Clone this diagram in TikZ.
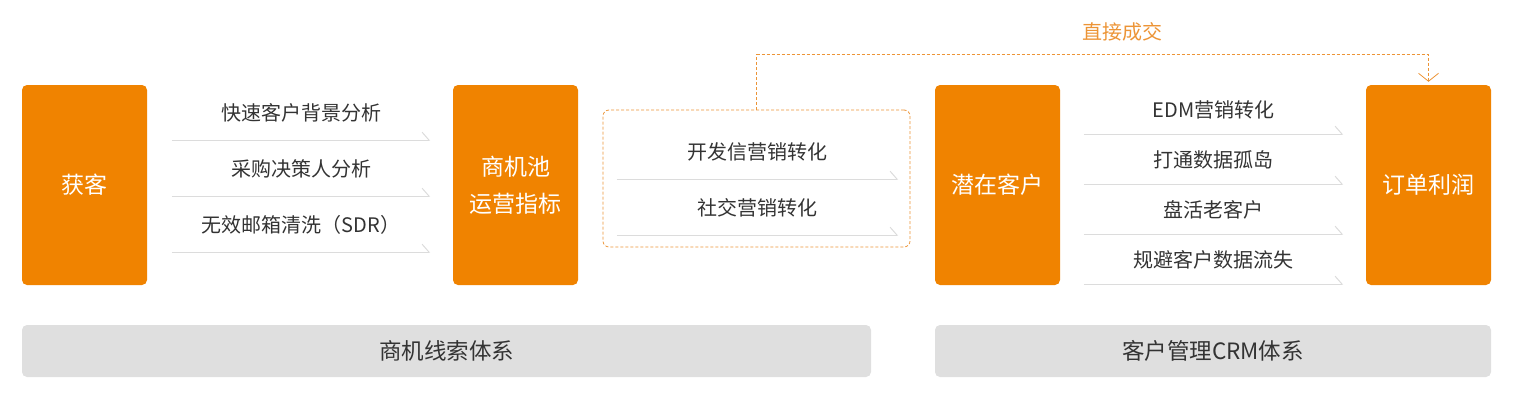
\documentclass[tikz,border=0pt]{standalone}
\usepackage{fontspec}
\setmainfont{Noto Sans CJK SC}
\usepackage{tikz}
\usetikzlibrary{arrows.meta}
\definecolor{mainorange}{HTML}{F08300}
\definecolor{lineorange}{HTML}{EC9436}
\definecolor{textgray}{HTML}{333333}
\definecolor{linegray}{HTML}{DCDCDC}
\definecolor{bargray}{HTML}{DFDFDF}

\begin{document}
\begin{tikzpicture}[x=1pt,y=-1pt,
  block/.style={fill=mainorange,rounded corners=5pt,minimum width=125pt,minimum height=200pt,
    inner sep=0pt,text=white,align=center,font=\fontsize{23}{37}\selectfont},
  item/.style={inner sep=0pt,minimum height=54pt,text=textgray,font=\fontsize{20}{22}\selectfont},
  itemline/.style={draw=linegray,line width=1pt,-{Straight Barb[left,length=7pt,width=16pt]}},
  bar/.style={fill=bargray,rounded corners=5pt,minimum height=52pt,inner sep=0pt,
    text=textgray,font=\fontsize{22.5}{24}\selectfont},
  direct/.style={draw=lineorange,line width=0.8pt,dash pattern=on 3pt off 2pt,
    -{Straight Barb[length=8pt,width=20pt]},shorten >=3pt}]
  \useasboundingbox (0,0) rectangle (1529,408);

  % the four orange stages
  \node[block] (acquire) at (84.5,185) {获客};
  \node[block] (pool) at (515.5,185) {商机池\\运营指标};
  \node[block] (lead) at (997.5,185) {潜在客户};
  \node[block] (order) at (1428.5,185) {订单利润};

  % left steps
  \node[item,minimum width=258pt] (bg) at (301,113) {快速客户背景分析};
  \node[item,minimum width=258pt] (buyer) at (301,169) {采购决策人分析};
  \node[item,minimum width=258pt] (clean) at (301,225) {无效邮箱清洗（SDR）};
  \foreach \n in {bg,buyer,clean}
    \draw[itemline] (\n.south west) -- (\n.south east);

  % dashed group in the middle
  \node[draw=lineorange,line width=0.8pt,dash pattern=on 3pt off 2pt,rounded corners=6pt,
    minimum width=307pt,minimum height=137pt] (convert) at (756.5,178.5) {};
  \node[item,minimum width=281pt] (mail) at (757.5,152) {开发信营销转化};
  \node[item,minimum width=281pt] (social) at (757.5,208) {社交营销转化};
  \foreach \n in {mail,social}
    \draw[itemline] (\n.south west) -- (\n.south east);

  % right steps
  \node[item,minimum width=259pt,minimum height=48pt] (edm) at (1213.5,110) {EDM营销转化};
  \node[item,minimum width=259pt,minimum height=48pt] (island) at (1213.5,160) {打通数据孤岛};
  \node[item,minimum width=259pt,minimum height=48pt] (old) at (1213.5,210) {盘活老客户};
  \node[item,minimum width=259pt,minimum height=48pt] (loss) at (1213.5,260) {规避客户数据流失};
  \foreach \n in {edm,island,old,loss}
    \draw[itemline] (\n.south west) -- (\n.south east);

  % shortcut to the order
  \draw[direct] (convert.north) -- ++(0,-55) -| (order.north);
  \node[text=lineorange,font=\fontsize{20}{22}\selectfont] (deal) at (1122,32) {直接成交};

  % the two systems
  \node[bar,minimum width=849pt] (clue) at (446.5,351) {商机线索体系};
  \node[bar,minimum width=556pt] (crm) at (1213,351) {客户管理CRM体系};
\end{tikzpicture}
\end{document}
